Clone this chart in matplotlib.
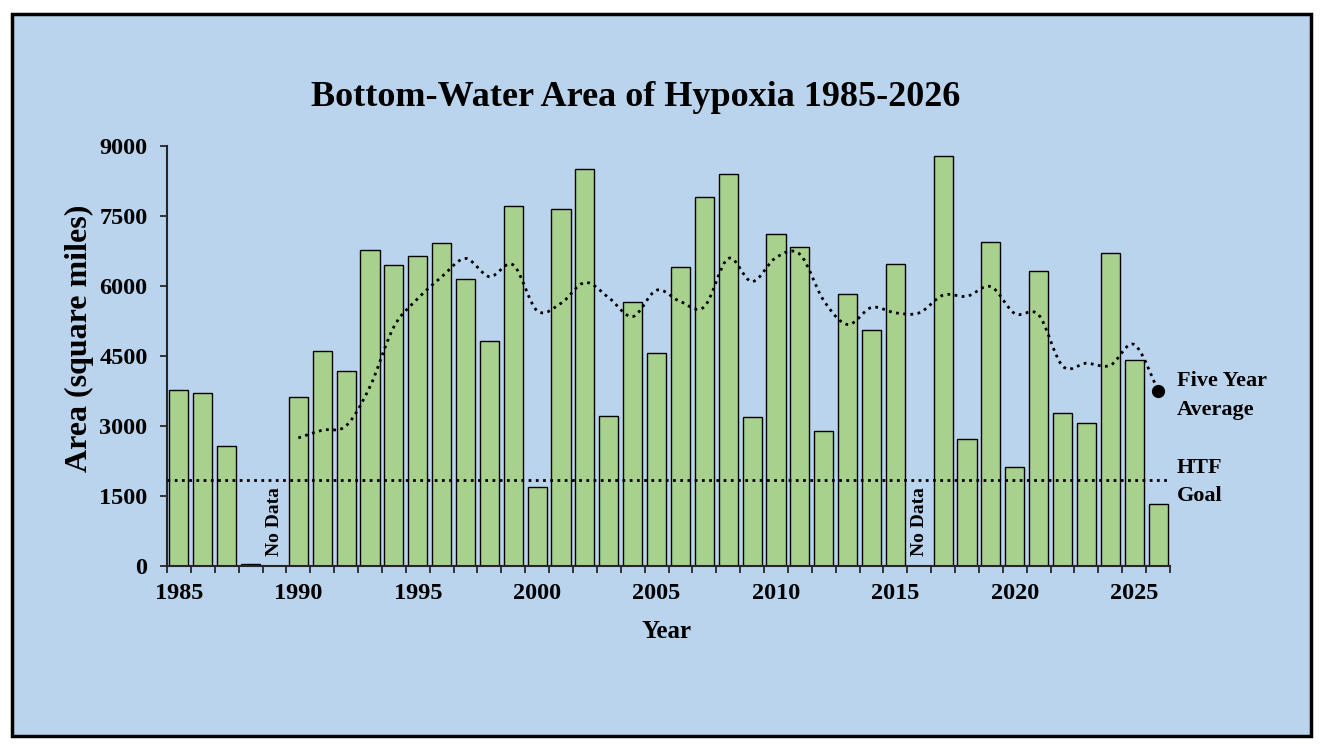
import matplotlib
matplotlib.use("Agg")
import matplotlib.pyplot as plt
from matplotlib.path import Path
from matplotlib.patches import PathPatch, Rectangle

# Données (miles carrés)
years = list(range(1985, 2027))
area = [3775, 3700, 2575, 40, None, 3625, 4600, 4175, 6770, 6450,
        6650, 6920, 6155, 4825, 7720, 1695, 7660, 8500, 3220, 5650,
        4560, 6400, 7910, 8410, 3195, 7105, 6835, 2895, 5835, 5055,
        6475, None, 8780, 2725, 6945, 2115, 6325, 3270, 3055, 6705,
        4405, 1325]
no_data_years = [1989, 2016]

avg_years = list(range(1990, 2027))
avg = [2745, 2910, 3005, 3845, 5125, 5730, 6195, 6590, 6200, 6450,
       5470, 5630, 6075, 5750, 5345, 5910, 5665, 5555, 6590, 6095,
       6610, 6680, 5690, 5175, 5540, 5425, 5425, 5805, 5780, 5985,
       5410, 5380, 4285, 4345, 4300, 4745, 3760]

htf_goal = 1850
yticks = [0, 1500, 3000, 4500, 6000, 7500, 9000]
xlabel_years = [1985, 1990, 1995, 2000, 2005, 2010, 2015, 2020, 2025]

plt.rcParams['font.family'] = ['Liberation Serif', 'DejaVu Serif']
plt.rcParams['font.weight'] = 'bold'

fig = plt.figure(figsize=(13.26, 7.46), dpi=100, facecolor='white')
W, H = 1326, 746

# fond bleu encadré (derrière les axes)
fig.patches.append(Rectangle((12 / W, 10 / H), (1311 - 12) / W, (732 - 10) / H,
                             transform=fig.transFigure, facecolor='#BAD4EE',
                             edgecolor='black', linewidth=2.5, zorder=-1))

ax = fig.add_axes([167 / W, 180 / H, (1170 - 167) / W, (566 - 146) / H])
ax.set_facecolor('none')
ax.set_zorder(1)

x = [y - 1985 for y in years]
xs = [xi for xi, v in zip(x, area) if v is not None]
vs = [v for v in area if v is not None]
ax.bar(xs, vs, width=0.8, color='#A9D18E', edgecolor='black', linewidth=1.0, zorder=2)

# moyenne sur cinq ans, ligne lissée (courbes de Bézier)
px = [y - 1985 for y in avg_years]
pts = list(zip(px, avg))
verts = [pts[0]]
codes = [Path.MOVETO]
n = len(pts)
for i in range(n - 1):
    p0 = pts[i - 1] if i > 0 else pts[i]
    p1 = pts[i]
    p2 = pts[i + 1]
    p3 = pts[i + 2] if i + 2 < n else pts[i + 1]
    c1 = (p1[0] + (p2[0] - p0[0]) / 6, p1[1] + (p2[1] - p0[1]) / 6)
    c2 = (p2[0] - (p3[0] - p1[0]) / 6, p2[1] - (p3[1] - p1[1]) / 6)
    verts += [c1, c2, p2]
    codes += [Path.CURVE4] * 3
ax.add_patch(PathPatch(Path(verts, codes), fill=False, edgecolor='black',
                       linewidth=2.0, linestyle=(0, (1, 1.6)), zorder=3))
ax.plot(px[-1], avg[-1], 'o', color='black', markersize=8.5, zorder=4)

ax.axhline(htf_goal, color='black', linewidth=2.0, linestyle=(0, (1, 1.6)), zorder=3)

for yr in no_data_years:
    ax.text(yr - 1985, 210, 'No Data', rotation=90, ha='center', va='bottom',
            fontsize=14, fontweight='bold')

ax.set_xlim(-0.5, 41.5)
ax.set_ylim(0, 9000)
ax.set_yticks(yticks)
ax.set_yticklabels([str(t) for t in yticks])
ax.set_xticks([y - 1985 for y in xlabel_years])
ax.set_xticklabels([str(y) for y in xlabel_years])
ax.set_xticks([i - 0.5 for i in range(43)], minor=True)
ax.tick_params(axis='x', which='major', length=0, pad=12, labelsize=17.5)
ax.tick_params(axis='x', which='minor', length=5, width=1.3, color='#262626', direction='out')
ax.tick_params(axis='y', length=5, width=1.3, color='#262626', pad=9, labelsize=17.5)
for lab in ax.get_xticklabels() + ax.get_yticklabels():
    lab.set_fontweight('bold')

for s in ['top', 'right']:
    ax.spines[s].set_visible(False)
for s in ['left', 'bottom']:
    ax.spines[s].set_color('#262626')
    ax.spines[s].set_linewidth(1.5)

fig.text(636 / W, 1 - 97 / H, 'Bottom-Water Area of Hypoxia 1985-2026',
         ha='center', va='center', fontsize=26, fontweight='bold')
fig.text(79 / W, 1 - 338 / H, 'Area (square miles)', rotation=90,
         ha='center', va='center', fontsize=23, fontweight='bold')
fig.text(666 / W, 1 - 632 / H, 'Year', ha='center', va='center',
         fontsize=18, fontweight='bold')
fig.text(1177 / W, 1 - 395 / H, 'Five Year\nAverage', ha='left', va='center',
         fontsize=16, fontweight='bold', linespacing=1.6)
fig.text(1177 / W, 1 - 482 / H, 'HTF\nGoal', ha='left', va='center',
         fontsize=16, fontweight='bold', linespacing=1.5)

fig.savefig('out.png', dpi=100, facecolor='white')
